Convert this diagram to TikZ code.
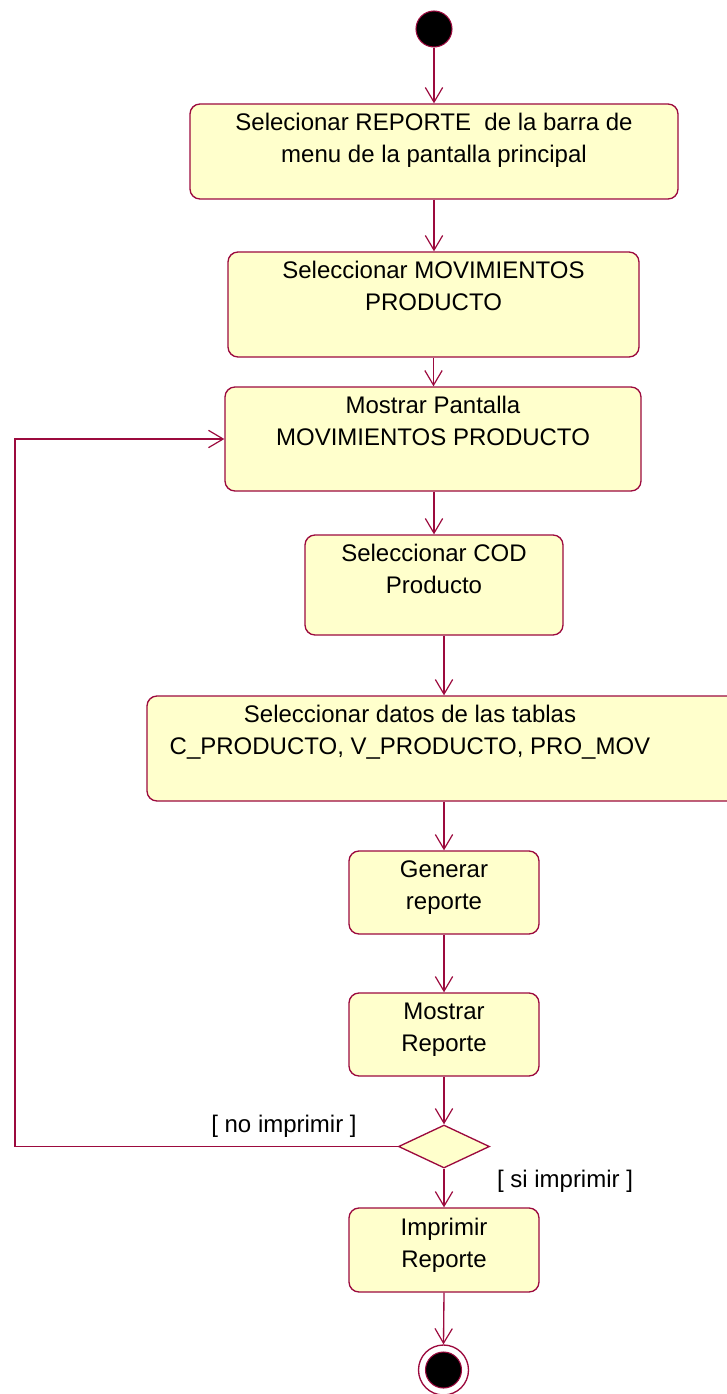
\documentclass[tikz,border=0pt]{standalone}
\usepackage{fontspec}
\setmainfont{Liberation Sans}
\usetikzlibrary{arrows.meta,shapes.geometric}
\definecolor{umlred}{HTML}{9C0A3E}
\definecolor{umlfill}{HTML}{FFFFCC}
\begin{document}
\begin{tikzpicture}[x=0.75pt,y=-0.75pt,
  act/.style={draw=umlred, fill=umlfill, rounded corners=7.5pt, line width=1pt, inner sep=0pt},
  lbl/.style={anchor=north, align=center, inner sep=0pt, font=\fontsize{18}{24}\selectfont, yshift=-7.5pt},
  flow/.style={draw=umlred, line width=1pt, -{Straight Barb[length=11pt,width=13pt,line width=0.9pt]}},
  guard/.style={font=\fontsize{18}{24}\selectfont, inner sep=0pt},
  startdot/.style={circle, fill=black, draw=umlred, line width=0.8pt, minimum size=27pt, inner sep=0pt}]
\useasboundingbox (0,0) rectangle (727,1394);
\begin{scope}
\clip (0,0) rectangle (727,1394);
% nodes
\node[startdot] (start) at (434,29) {};
\node[act, minimum width=366pt, minimum height=71.25pt] (b1) at (434,151.5) {};
\node[lbl] (t1) at (b1.north) {Selecionar REPORTE\ \ de la barra de\\menu de la pantalla principal};
\node[act, minimum width=308.25pt, minimum height=78.75pt] (b2) at (433.5,304.5) {};
\node[lbl] (t2) at (b2.north) {Seleccionar MOVIMIENTOS\\PRODUCTO};
\node[act, minimum width=312pt, minimum height=78pt] (b3) at (433,439) {};
\node[lbl] (t3) at (b3.north) {Mostrar Pantalla\\MOVIMIENTOS PRODUCTO};
\node[act, minimum width=193.5pt, minimum height=75pt] (b4) at (434,585) {};
\node[lbl] (t4) at (b4.north) {Seleccionar COD\\Producto};
\node[act, minimum width=540pt, minimum height=78.75pt] (b5) at (507,748.5) {};
\node[lbl] (t5) at ([xshift=-72.75pt]b5.north) {Seleccionar datos de las tablas\\C\_PRODUCTO, V\_PRODUCTO, PRO\_MOV};
\node[act, minimum width=142.5pt, minimum height=62.25pt] (b6) at (444,892.5) {};
\node[lbl] (t6) at (b6.north) {Generar\\reporte};
\node[act, minimum width=142.5pt, minimum height=62.25pt] (b7) at (444,1034.5) {};
\node[lbl] (t7) at (b7.north) {Mostrar\\Reporte};
\node[diamond, draw=umlred, fill=umlfill, line width=1pt, inner sep=0pt,
      minimum width=68.25pt, minimum height=32.25pt] (d) at (444,1146.5) {};
\node[act, minimum width=142.5pt, minimum height=63pt] (b8) at (444,1250) {};
\node[lbl] (t8) at (b8.north) {Imprimir\\Reporte};
\node[circle, draw=umlred, fill=white, line width=1pt, minimum size=37.5pt, inner sep=0pt] (end) at (443.5,1370) {};
\node[startdot] (endin) at (end.center) {};
\node[guard] (g1) at (284,1126) {[\hspace{5pt}no imprimir\hspace{5pt}]};
\node[guard] (g2) at (565,1181) {[\hspace{5pt}si imprimir\hspace{5pt}]};
\coordinate (lp) at (15,0);
% connectors
\draw[flow] (start.south) -- (b1.north);
\draw[flow] (b1.south) -- (b1.south |- b2.north);
\draw[flow] (b2.south) -- (b2.south |- b3.north);
\draw[flow] (b3.south -| b4.north) -- (b4.north);
\draw[flow] (b4.south -| b6.north) -- (b5.north -| b6.north);
\draw[flow] (b5.south -| b6.north) -- (b6.north);
\draw[flow] (b6.south) -- (b7.north);
\draw[flow] (b7.south) -- (d.north);
\draw[flow] (d.south) -- (b8.north);
\draw[flow] (b8.south) -- (end.north);
\draw[flow] (d.west) -- (d.west -| lp) |- (b3.west);
\end{scope}
\end{tikzpicture}
\end{document}
